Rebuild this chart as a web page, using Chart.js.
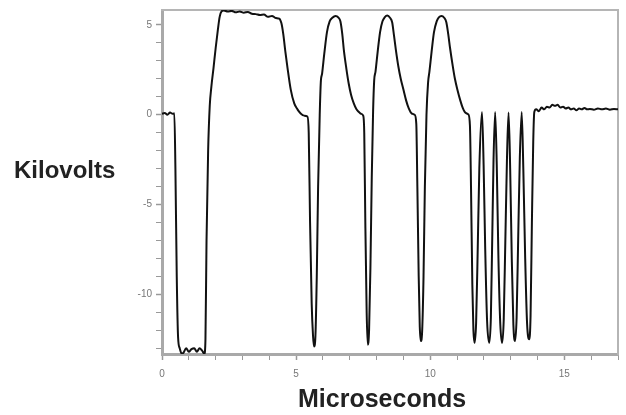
<!DOCTYPE html>
<html>
<head>
<meta charset="utf-8">
<script src="https://cdn.jsdelivr.net/npm/chart.js@4/dist/chart.umd.min.js"></script>
<style>
  body { margin: 0; background: #fff; }
  #wrap { position: relative; width: 626px; height: 415px; }
  .title { position: absolute; font-family: "Liberation Sans", Arial, sans-serif; font-weight: bold; color: #222; white-space: nowrap; }
  #ytitle { left: 14px; top: 156px; font-size: 24px; }
  #xtitle { left: 298px; top: 384px; font-size: 25px; }
</style>
</head>
<body>
<div id="wrap">
  <canvas id="chart" width="626" height="415"></canvas>
  <div class="title" id="ytitle">Kilovolts</div>
  <div class="title" id="xtitle">Microseconds</div>
</div>
<script>
// waveform
const microseconds = [
  0, 0.1, 0.2, 0.3, 0.4, 0.46,
  0.5, 0.55, 0.6, 0.66, 0.73, 0.8, 0.9, 1.0, 1.1, 1.2, 1.3, 1.4, 1.5, 1.58,
  1.62, 1.66, 1.72, 1.78, 1.84, 1.92, 2.0, 2.08, 2.15, 2.22, 2.3, 2.45, 2.6, 2.75, 2.9,
  3.05, 3.2, 3.35, 3.5, 3.65, 3.8, 3.95, 4.1, 4.25, 4.37, 4.45, 4.52, 4.6, 4.68, 4.8,
  4.93, 5.05, 5.17, 5.3, 5.42,
  5.47, 5.52, 5.58, 5.63, 5.67, 5.72, 5.77, 5.82, 5.88, 5.92, 5.97, 6.05, 6.15, 6.25,
  6.35, 6.47, 6.58, 6.65, 6.72, 6.78, 6.87, 6.96, 7.05, 7.15, 7.25, 7.33, 7.42, 7.5,
  7.54, 7.58, 7.63, 7.67, 7.72, 7.77, 7.82, 7.87, 7.91, 7.96, 8.04, 8.13, 8.22, 8.3,
  8.4, 8.5, 8.58, 8.65, 8.72, 8.81, 8.9, 9.0, 9.1, 9.2, 9.31, 9.42,
  9.48, 9.52, 9.57, 9.61, 9.65, 9.7, 9.75, 9.8, 9.86, 9.92, 9.97, 10.05, 10.14, 10.24,
  10.32, 10.42, 10.52, 10.6, 10.67, 10.74, 10.83, 10.92, 11.02, 11.12, 11.22, 11.32, 11.42,
  11.48, 11.52, 11.57, 11.61, 11.65, 11.71, 11.77, 11.83, 11.93,
  11.99, 12.05, 12.12, 12.2, 12.26, 12.31, 12.36, 12.42,
  12.48, 12.54, 12.61, 12.68, 12.74, 12.8, 12.86, 12.92,
  12.98, 13.04, 13.1, 13.16, 13.22, 13.28, 13.34, 13.41,
  13.47, 13.54, 13.61, 13.69, 13.74, 13.79, 13.84, 13.88,
  13.95, 14.05, 14.15, 14.25, 14.35, 14.45, 14.55, 14.65, 14.75, 14.85, 14.95,
  15.05, 15.15, 15.25, 15.35, 15.45, 15.55, 15.65, 15.75, 15.85, 15.95,
  16.1, 16.25, 16.4, 16.55, 16.7, 16.85, 17.0
];
const kilovolts = [
  0.05, 0.1, 0.0, 0.12, 0.05, 0.08,
  -3, -9, -12.4, -13.0, -13.3, -13.25, -13.0, -13.2, -13.05, -13.0, -13.2, -13.0, -13.15, -13.3,
  -12.5, -7, -2, 0.5, 1.55, 2.6, 3.7, 4.7, 5.45, 5.75, 5.8, 5.75, 5.78, 5.7, 5.75,
  5.68, 5.72, 5.62, 5.6, 5.55, 5.58, 5.45, 5.5, 5.38, 5.35, 5.1, 4.5, 3.5, 2.6, 1.4,
  0.63, 0.3, 0.07, -0.05, -0.1,
  -1, -6, -10.5, -12.3, -12.9, -12.3, -9, -4, 0, 1.8, 2.3, 3.4, 4.6, 5.2,
  5.4, 5.5, 5.4, 5.2, 4.5, 3.6, 2.6, 1.74, 1.1, 0.63, 0.3, 0.17, 0.05, -0.05,
  -1, -6, -11, -12.8, -12.0, -8.5, -3.5, 0.2, 1.9, 2.4, 3.5, 4.6, 5.2, 5.42,
  5.52, 5.4, 5.15, 4.4, 3.6, 2.7, 2.0, 1.4, 0.8, 0.35, 0.07, 0.0,
  -0.5, -4, -9, -11.8, -12.6, -12.0, -9, -4, 0, 1.8, 2.4, 3.5, 4.6, 5.2,
  5.42, 5.5, 5.4, 5.15, 4.5, 3.7, 2.8, 2.0, 1.35, 0.8, 0.35, 0.1, 0.02,
  -0.6, -4, -9.5, -12, -12.7, -11.6, -7.5, -3, 0.15,
  -2.8, -7.5, -11.5, -12.7, -11.3, -7, -2.5, 0.15,
  -2.8, -7.8, -11.6, -12.7, -11.4, -7, -2.5, 0.12,
  -3, -8, -11.7, -12.6, -11.3, -6.8, -2.4, 0.15,
  -3, -8, -11.6, -12.5, -11.2, -6, -1.5, 0.15,
  0.3, 0.2, 0.4, 0.3, 0.45, 0.4, 0.55, 0.5, 0.55, 0.4, 0.45,
  0.35, 0.4, 0.3, 0.35, 0.25, 0.35, 0.3, 0.38, 0.3, 0.32,
  0.28, 0.35, 0.3, 0.34, 0.28, 0.32, 0.3
];
const xTickLabels = [0, 5, 10, 15];
const yTickLabels = [5, 0, -5, -10];

const tickFont = { family: "Liberation Sans, Arial, sans-serif", size: 10 };
const axisGray = "#a9a9a9";

new Chart(document.getElementById("chart"), {
  type: "scatter",
  data: {
    datasets: [{
      data: microseconds.map((t, i) => ({ x: t, y: kilovolts[i] })),
      showLine: true,
      borderColor: "#111",
      borderWidth: 2,
      pointRadius: 0,
      cubicInterpolationMode: "monotone"
    }]
  },
  options: {
    responsive: false,
    animation: false,
    layout: { padding: { top: 8, right: 6, left: 0, bottom: 0 } },
    plugins: { legend: { display: false }, tooltip: { enabled: false } },
    scales: {
      x: {
        type: "linear",
        position: "bottom",
        min: 0,
        max: 17,
        ticks: {
          stepSize: 1,
          autoSkip: false,
          maxRotation: 0,
          includeBounds: false,
          color: "#777",
          font: tickFont,
          padding: 8,
          callback: v => xTickLabels.includes(v) ? String(v) : ""
        },
        grid: {
          drawOnChartArea: false,
          tickLength: 6,
          tickColor: "#999",
          tickWidth: c => xTickLabels.includes(c.tick && c.tick.value) ? 1.5 : 1
        },
        border: { color: axisGray, width: 3 },
        afterFit: s => { s.height = 61; }
      },
      y: {
        type: "linear",
        position: "left",
        min: -13.32,
        max: 5.83,
        ticks: {
          stepSize: 1,
          autoSkip: false,
          includeBounds: false,
          color: "#777",
          font: tickFont,
          padding: 4,
          callback: v => yTickLabels.includes(v) ? String(v) : ""
        },
        grid: {
          drawOnChartArea: false,
          tickLength: 6,
          tickColor: "#999",
          tickWidth: c => yTickLabels.includes(c.tick && c.tick.value) ? 1.5 : 1
        },
        border: { color: axisGray, width: 3 },
        afterFit: s => { s.width = 162; }
      },
      // plain frame on top and right
      xTop: {
        type: "linear",
        position: "top",
        min: 0,
        max: 17,
        ticks: { display: false },
        grid: { display: false },
        border: { color: "#b5b5b5", width: 2 },
        afterFit: s => { s.height = 0; }
      },
      yRight: {
        type: "linear",
        position: "right",
        min: -13.32,
        max: 5.83,
        ticks: { display: false },
        grid: { display: false },
        border: { color: "#b5b5b5", width: 2 },
        afterFit: s => { s.width = 0; }
      }
    }
  }
});
</script>
</body>
</html>
